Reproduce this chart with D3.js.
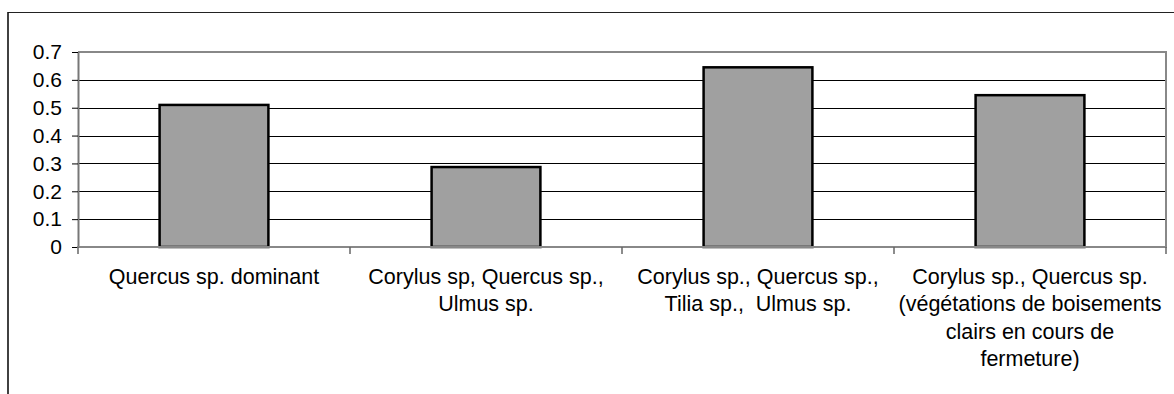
<!DOCTYPE html>
<html>
<head>
<meta charset="utf-8">
<script src="https://cdn.jsdelivr.net/npm/d3@7"></script>
<style>
  html, body { margin: 0; padding: 0; background: #fff; }
  svg { display: block; }
  text { font-family: "Liberation Sans", Arial, sans-serif; fill: #000; }
  text.cat { white-space: pre; }
</style>
</head>
<body>
<svg id="chart" width="1174" height="394"></svg>
<script>
// Vegetation groups (x categories), each label split into its display lines
const categories = [
  "Quercus sp. dominant",
  "Corylus sp, Quercus sp., Ulmus sp.",
  "Corylus sp., Quercus sp., Tilia sp., Ulmus sp.",
  "Corylus sp., Quercus sp. (végétations de boisements clairs en cours de fermeture)"
];
const categoryLines = [
  ["Quercus sp. dominant"],
  ["Corylus sp, Quercus sp.,", "Ulmus sp."],
  ["Corylus sp., Quercus sp.,", "Tilia sp.,  Ulmus sp."],
  ["Corylus sp., Quercus sp.", "(végétations de boisements", "clairs en cours de", "fermeture)"]
];
const values = [0.51, 0.287, 0.645, 0.545];
const yTicks = [0, 0.1, 0.2, 0.3, 0.4, 0.5, 0.6, 0.7];
const yTickLabels = ["0", "0.1", "0.2", "0.3", "0.4", "0.5", "0.6", "0.7"];

const svg = d3.select("#chart");
const W = 1174, H = 394;
const plot = { left: 78, right: 1166, top: 52, bottom: 247 };

// Outer chart frame (top and left edges visible)
svg.append("line").attr("x1", 8).attr("x2", W).attr("y1", 12.5).attr("y2", 12.5)
  .attr("stroke", "#222").attr("stroke-width", 1.2);
svg.append("line").attr("x1", 8).attr("x2", 8).attr("y1", 12).attr("y2", H)
  .attr("stroke", "#111").attr("stroke-width", 1.6);

// Scales
const xCat = d3.scaleBand().domain(categories).range([plot.left, plot.right]).padding(0);
const xBar = d3.scaleBand().domain(categories).range([plot.left, plot.right])
  .paddingInner(0.6).paddingOuter(0.3);
const y = d3.scaleLinear().domain([0, 0.7]).range([plot.bottom, plot.top]);

// Horizontal gridlines
svg.append("g").selectAll("line")
  .data(yTicks.filter(t => t > 0 && t < 0.7))
  .join("line")
  .attr("x1", plot.left).attr("x2", plot.right)
  .attr("y1", d => Math.round(y(d)) + 0.5).attr("y2", d => Math.round(y(d)) + 0.5)
  .attr("stroke", "#000").attr("stroke-width", 1);

// Plot area border (top and right)
svg.append("path")
  .attr("d", `M${plot.left},${plot.top} H${plot.right} V${plot.bottom}`)
  .attr("fill", "none").attr("stroke", "#888").attr("stroke-width", 2);

// Y axis
const yAxis = d3.axisLeft(y)
  .tickValues(yTicks)
  .tickFormat((d, i) => yTickLabels[i])
  .tickSizeInner(6).tickSizeOuter(0).tickPadding(10);
const gy = svg.append("g").attr("transform", `translate(${plot.left},0)`).call(yAxis);
gy.select(".domain").attr("stroke", "#777").attr("stroke-width", 2);
gy.selectAll(".tick line").attr("stroke", "#000").attr("stroke-width", 1);
gy.selectAll(".tick text")
  .attr("font-size", "21px")
  .attr("font-family", "'Liberation Sans', Arial, sans-serif")
  .attr("fill", "#000");

// Bars
svg.append("g").selectAll("rect")
  .data(values)
  .join("rect")
  .attr("x", (d, i) => xBar(categories[i]))
  .attr("y", d => y(d))
  .attr("width", xBar.bandwidth())
  .attr("height", d => y(0) - y(d))
  .attr("fill", "#a0a0a0")
  .attr("stroke", "#000")
  .attr("stroke-width", 2.5);

// X axis with category boundary ticks
const xAxis = svg.append("g");
xAxis.append("line")
  .attr("x1", plot.left - 1).attr("x2", plot.right + 1)
  .attr("y1", plot.bottom).attr("y2", plot.bottom)
  .attr("stroke", "#888").attr("stroke-width", 2);
const boundaries = categories.map(c => xCat(c)).concat([xCat(categories[categories.length - 1]) + xCat.bandwidth()]);
xAxis.selectAll("line.bt")
  .data(boundaries)
  .join("line").attr("class", "bt")
  .attr("x1", d => d).attr("x2", d => d)
  .attr("y1", plot.bottom).attr("y2", plot.bottom + 7)
  .attr("stroke", "#666").attr("stroke-width", 1.5);

// Category labels
const lineHeight = 27.3;
const labels = xAxis.selectAll("text.cat")
  .data(categories)
  .join("text").attr("class", "cat")
  .attr("text-anchor", "middle")
  .attr("font-size", "21.5px")
  .attr("x", d => xCat(d) + xCat.bandwidth() / 2)
  .attr("y", 284);
labels.each(function(d, i) {
  d3.select(this).selectAll("tspan")
    .data(categoryLines[i])
    .join("tspan")
    .attr("x", xCat(d) + xCat.bandwidth() / 2)
    .attr("dy", (t, j) => j === 0 ? 0 : lineHeight)
    .text(t => t);
});
</script>
</body>
</html>
